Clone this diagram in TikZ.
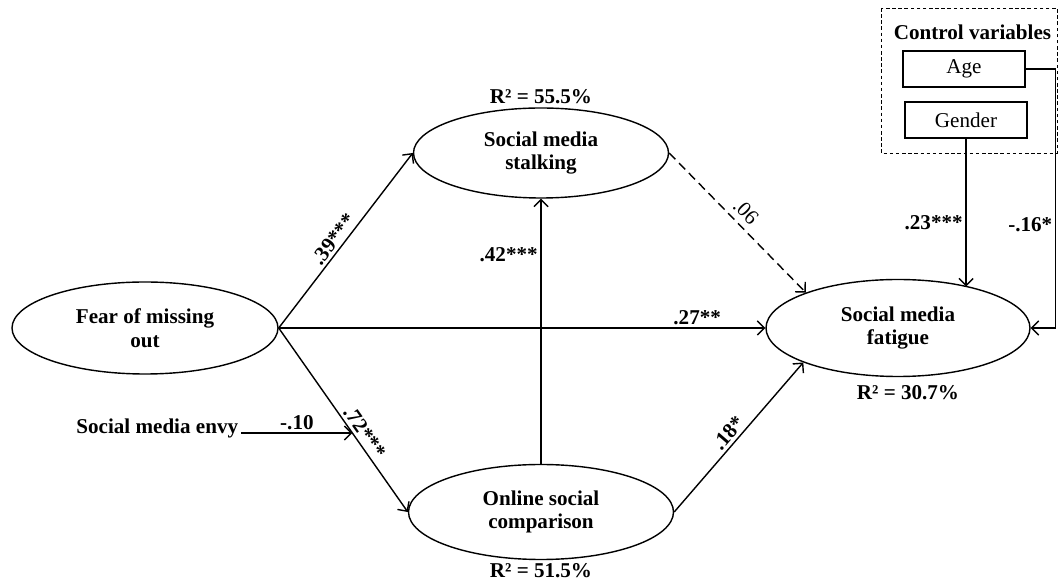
\documentclass[tikz,border=0pt]{standalone}
\usepackage{fontspec}
\setmainfont{Liberation Serif}
\usetikzlibrary{shapes.geometric,positioning,calc,arrows.meta}

\tikzset{
    latent/.style={draw, ellipse, inner sep=0pt, align=center, font=\fontsize{12}{13.5}\selectfont\bfseries},
    ctrl/.style={draw, rectangle, line width=0.6pt, minimum width=2.44cm, minimum height=0.72cm, font=\fontsize{12}{13.5}\selectfont},
    coef/.style={inner sep=1.5pt, font=\fontsize{12}{13.5}\selectfont\bfseries},
    rsq/.style={inner sep=1.5pt, font=\fontsize{12}{13.5}\selectfont\bfseries},
}

\begin{document}
\begin{tikzpicture}[>={Straight Barb[length=4pt,width=8pt]}, line width=0.8pt]
    \useasboundingbox (0,0) rectangle (21.18,-11.76);

    % constructs
    \node[latent, minimum width=5.32cm, minimum height=1.84cm] (fomo) at (2.9,-6.56) {Fear of missing\\out};
    \node[latent, minimum width=5.1cm, minimum height=1.8cm] (stalk) at (10.82,-3.06) {Social media\\stalking};
    \node[latent, minimum width=5.3cm, minimum height=1.9cm] (comp) at (10.82,-10.24) {Online social\\comparison};
    \node[latent, minimum width=5.28cm, minimum height=1.94cm] (fat) at (17.96,-6.56) {Social media\\fatigue};

    \node[rsq, above=0pt of stalk] (r2stalk) {R² = 55.5\%};
    \node[rsq, below=0pt of comp] (r2comp) {R² = 51.5\%};
    \node[rsq, below=3pt of fat, xshift=0.2cm] (r2fat) {R² = 30.7\%};

    % control variables
    \node[coef] (ctrltitle) at (19.45,-0.64) {Control variables};
    \node[ctrl] (age) at (19.28,-1.38) {Age};
    \node[ctrl] (gender) at (19.32,-2.4) {Gender};
    \draw[line width=0.5pt, dash pattern=on 2pt off 1.5pt] (17.62,-0.16) rectangle (21.14,-3.06);

    % paths
    \draw[->] (fomo.east) -- node[coef, sloped, above, pos=0.47] {.39***} (stalk.west);
    \draw[->] (fomo.east) -- node[coef, above, pos=0.86] {.27**} (fat.west);
    \draw[->] (fomo.east) -- node[coef, sloped, above, pos=0.6] {.72***} (comp.west);
    \draw[->] (comp.north) -- node[coef, left, pos=0.79] {.42***} (stalk.south);
    \draw[->] (comp.east) -- node[coef, sloped, above, pos=0.48] {.18*} (fat.200);
    \draw[->, dash pattern=on 5pt off 3pt] (stalk.east) -- node[sloped, above, pos=0.49, font=\fontsize{12}{13.5}\selectfont] {.06} (fat.159);

    % moderator
    \coordinate (hit) at ($(fomo.east)!0.571!(comp.west)$);
    \node[coef, anchor=base east] (envy) at ($(hit)+(-2.22,0)$) {Social media envy};
    \draw[->] (envy.base east) -- node[coef, above] {-.10} (hit);

    % controls into fatigue
    \draw[->] (gender.south) -- node[coef, left, pos=0.57] {.23***} ($(gender.south |- fat.center)+(0,0.83)$);
    \draw[->] (age.east) -- ++(0.6,0) |- node[coef, left, pos=0.3] {-.16*} (fat.east);
\end{tikzpicture}
\end{document}
